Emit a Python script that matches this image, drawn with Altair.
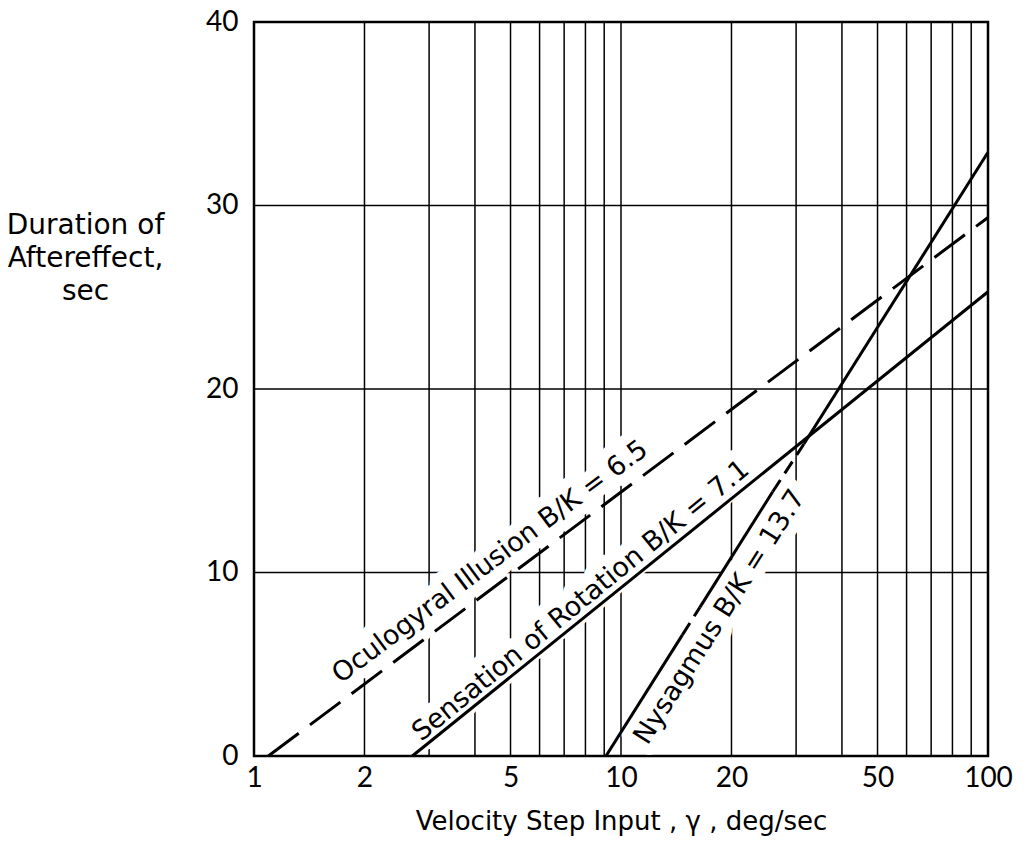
import altair as alt
import pandas as pd

# ---- data ----
x_grid = [1, 2, 3, 4, 5, 6, 7, 8, 9, 10, 20, 30, 40, 50, 60, 70, 80, 90, 100]
y_grid = [10, 20, 30]
x_ticks = [1, 2, 5, 10, 20, 50, 100]
y_ticks = [0, 10, 20, 30, 40]

ocu_x = [1.094, 100]
ocu_y = [0, 29.35]
sen_x = [2.70, 100]
sen_y = [0, 25.3]
nys_x = [9.1, 14.7, 16.4, 25.9, 31.5, 100]
nys_y = [0, 6.6, 8.1, 14.4, 17.0, 32.9]
nys_style = ["solid", "dashed", "solid", "dashed", "solid"]

label_text = ["Oculogyral Illusion B/K = 6.5",
              "Sensation of Rotation B/K = 7.1",
              "Nysagmus B/K = 13.7"]
label_x = [4.40, 7.78, 18.6]
label_y = [10.57, 8.45, 7.57]
label_angle = [323.2, 320.7, 302.4]

TICK_FONT = "Lato"
TEXT_FONT = "DejaVu Sans"

# ---- tables ----
solid_rows = [{"x": sen_x[i], "y": sen_y[i], "seg": "sen"} for i in range(2)]
dashed_rows = [{"x": ocu_x[i], "y": ocu_y[i], "seg": "ocu"} for i in range(2)]
nys_dash_rows = []
for i, st in enumerate(nys_style):
    rows = [{"x": nys_x[i], "y": nys_y[i], "seg": f"n{i}"},
            {"x": nys_x[i + 1], "y": nys_y[i + 1], "seg": f"n{i}"}]
    if st == "solid":
        solid_rows += rows
    else:
        nys_dash_rows += rows

solid_df = pd.DataFrame(solid_rows)
dashed_df = pd.DataFrame(dashed_rows)
nysd_df = pd.DataFrame(nys_dash_rows)
xg_df = pd.DataFrame({"x": x_grid})
yg_df = pd.DataFrame({"y": y_grid})
lab_df = pd.DataFrame({"t": label_text, "x": label_x, "y": label_y, "a": label_angle})
halo_df = pd.DataFrame({"t": label_text, "x": label_x, "y": label_y, "a": label_angle})

xs = alt.Scale(type="log", domain=[1, 100], nice=False)
ys = alt.Scale(domain=[0, 40], nice=False, zero=False)

x_axis = alt.Axis(values=x_ticks, format="d", ticks=False, domain=False, grid=False,
                  labelFontSize=28, labelFont=TICK_FONT, labelPadding=8, labelColor="black",
                  title="Velocity Step Input , γ , deg/sec", titleFont=TEXT_FONT,
                  titleFontSize=26, titleFontWeight="normal", titlePadding=16,
                  titleColor="black", labelFlush=False)
y_axis = alt.Axis(values=y_ticks, ticks=False, domain=False, grid=False,
                  labelFontSize=28, labelFont=TICK_FONT, labelPadding=16, labelColor="black",
                  title=["Duration of", "Aftereffect,", "sec"], titleFont=TEXT_FONT,
                  titleFontSize=28, titleFontWeight="normal", titleAngle=0,
                  titleAlign="center", titleBaseline="top", titleX=-169, titleY=189,
                  titleLineHeight=33, titleColor="black", labelFlush=False)

X = alt.X("x:Q", scale=xs, axis=x_axis)
Y = alt.Y("y:Q", scale=ys, axis=y_axis)

vgrid = alt.Chart(xg_df).mark_rule(color="black", strokeWidth=1.5).encode(x=X)
hgrid = alt.Chart(yg_df).mark_rule(color="black", strokeWidth=1.5).encode(y=Y)

halo = alt.Chart(halo_df).mark_text(font=TEXT_FONT, fontSize=27, strokeJoin="round",
                                    strokeCap="round").encode(
    x=X, y=Y, text="t:N", angle=alt.Angle("a:Q", scale=None),
    fill=alt.value("#ffffff"), stroke=alt.value("#ffffff"),
    strokeWidth=alt.value(22))

solid = alt.Chart(solid_df).mark_line(color="black", strokeWidth=3).encode(
    x=X, y=Y, detail="seg:N")
dashed = alt.Chart(dashed_df).mark_line(color="black", strokeWidth=3,
                                        strokeDash=[38, 14]).encode(
    x=X, y=Y, detail="seg:N")
nysd = alt.Chart(nysd_df).mark_line(color="black", strokeWidth=3,
                                    strokeDash=[14, 8]).encode(
    x=X, y=Y, detail="seg:N")

labels = alt.Chart(lab_df).mark_text(font=TEXT_FONT, fontSize=27, color="black").encode(
    x=X, y=Y, text="t:N", angle=alt.Angle("a:Q", scale=None))

chart = alt.layer(vgrid, hgrid, halo, solid, dashed, nysd, labels).properties(
    width=734, height=734,
    autosize=alt.AutoSizeParams(type="none"),
    padding={"left": 254, "top": 22, "right": 36, "bottom": 94},
    background="white",
).configure_view(stroke="black", strokeWidth=2.5)

chart.save("out.html", embed_options={"renderer": "svg", "actions": False})
